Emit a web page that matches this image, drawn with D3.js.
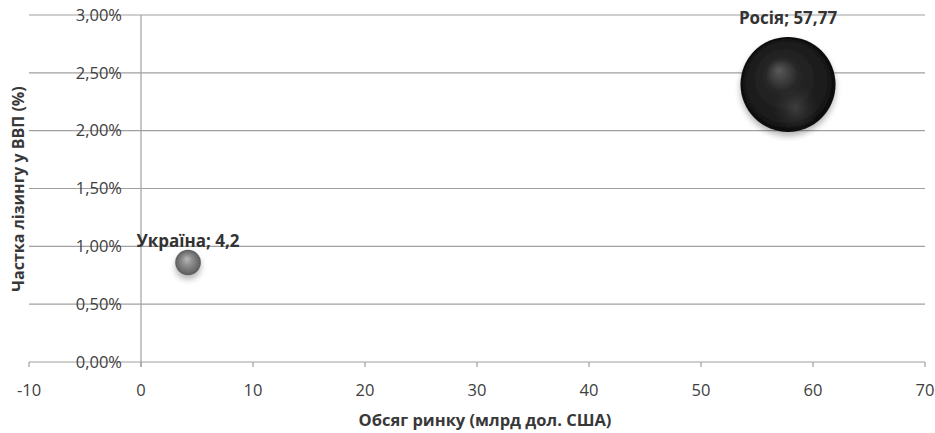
<!DOCTYPE html>
<html><head><meta charset="utf-8">
<script src="https://cdn.jsdelivr.net/npm/d3@7"></script>
<style>body{margin:0;background:#fff}svg{display:block}</style>
</head><body>
<script>
const countries = ["Україна", "Росія"];
const marketVolume = [4.2, 57.77];      // x: billion USD
const leasingShare = [0.0086, 0.0240];  // y: share of GDP
const labels = ["Україна; 4,2", "Росія; 57,77"];
const xTicks = [-10, 0, 10, 20, 30, 40, 50, 60, 70];
const yTicks = [0, 0.005, 0.01, 0.015, 0.02, 0.025, 0.03];

const W = 935, H = 433;
const svg = d3.select("body").append("svg").attr("width", W).attr("height", H);
const font = "'Open Sans', 'Liberation Sans', sans-serif";

const x = d3.scaleLinear().domain([-10, 70]).range([29, 925]);
const y = d3.scaleLinear().domain([0, 0.03]).range([362, 15]);
const r = d3.scaleSqrt().domain([0, 57.77]).range([0, 47.5]);

const defs = svg.append("defs");
const g1 = defs.append("radialGradient").attr("id","gBlack").attr("cx","50%").attr("cy","50%").attr("r","50%").attr("fx","40%").attr("fy","35%");
g1.append("stop").attr("offset","0%").attr("stop-color","#5a5a5a");
g1.append("stop").attr("offset","35%").attr("stop-color","#262626");
g1.append("stop").attr("offset","85%").attr("stop-color","#1a1a1a");
g1.append("stop").attr("offset","100%").attr("stop-color","#0a0a0a");
const g1b = defs.append("radialGradient").attr("id","gBlackLow").attr("cx","58%").attr("cy","75%").attr("r","25%");
g1b.append("stop").attr("offset","0%").attr("stop-color","#555").attr("stop-opacity",0.6);
g1b.append("stop").attr("offset","100%").attr("stop-color","#333").attr("stop-opacity",0);
const g2 = defs.append("radialGradient").attr("id","gGrey").attr("cx","50%").attr("cy","50%").attr("r","50%").attr("fx","45%").attr("fy","35%");
g2.append("stop").attr("offset","0%").attr("stop-color","#b8b8b8");
g2.append("stop").attr("offset","45%").attr("stop-color","#8a8a8a");
g2.append("stop").attr("offset","100%").attr("stop-color","#5c5c5c");
const sh = defs.append("filter").attr("id","shadow").attr("x","-30%").attr("y","-30%").attr("width","160%").attr("height","170%");
sh.append("feGaussianBlur").attr("in","SourceAlpha").attr("stdDeviation",3);
sh.append("feOffset").attr("dx",0).attr("dy",4).attr("result","b");
sh.append("feComponentTransfer").append("feFuncA").attr("type","linear").attr("slope",0.3);
const m = sh.append("feMerge"); m.append("feMergeNode"); m.append("feMergeNode").attr("in","SourceGraphic");

// gridlines
svg.append("g").selectAll("line").data(yTicks).join("line")
  .attr("x1", x(-10)).attr("x2", x(70)).attr("y1", d=>y(d)).attr("y2", d=>y(d))
  .attr("stroke", "#a0a0a0").attr("stroke-width", 1.2);

// x axis ticks
svg.append("g").selectAll("line").data(xTicks).join("line")
  .attr("x1", d=>x(d)).attr("x2", d=>x(d)).attr("y1", y(0)).attr("y2", y(0)+5)
  .attr("stroke", "#a0a0a0").attr("stroke-width", 1.2);
// vertical axis at x=0
svg.append("line").attr("x1", x(0)).attr("x2", x(0)).attr("y1", y(0.03)).attr("y2", y(0)+5)
  .attr("stroke", "#a0a0a0").attr("stroke-width", 1.2);

const fmtPct = d => (d*100).toFixed(2).replace(".", ",") + "%";
svg.append("g").selectAll("text").data(yTicks).join("text")
  .attr("x", 122).attr("y", d=>y(d)).attr("dy","0.35em").attr("text-anchor","end")
  .attr("font-family", font).attr("font-size", 16.5).attr("fill", "#404040").text(fmtPct);

svg.append("g").selectAll("text").data(xTicks).join("text")
  .attr("x", d=>x(d)).attr("y", 390).attr("dy","0.35em").attr("text-anchor","middle")
  .attr("font-family", font).attr("font-size", 16.5).attr("fill", "#404040").text(d=>d);

svg.append("text").attr("x", 485).attr("y", 420).attr("dy","0.35em").attr("text-anchor","middle")
  .attr("font-family", font).attr("font-size", 16.5).attr("font-weight","bold").attr("fill","#383838")
  .text("Обсяг ринку (млрд дол. США)");
svg.append("text").attr("transform","translate(18,189) rotate(-90)").attr("dy","0.35em").attr("text-anchor","middle")
  .attr("font-family", font).attr("font-size", 16).attr("font-weight","bold").attr("fill","#383838")
  .text("Частка лізингу у ВВП (%)");

// bubbles
const data = countries.map((c,i)=>({c, x: marketVolume[i], y: leasingShare[i], label: labels[i]}));
const bg = svg.append("g");
data.forEach((d,i)=>{
  const cx = x(d.x), cy = y(d.y), rr = r(d.x);
  bg.append("circle").attr("cx",cx).attr("cy",cy).attr("r",rr)
    .attr("fill", i===1 ? "url(#gBlack)" : "url(#gGrey)").attr("filter","url(#shadow)");
  if (i===1) bg.append("circle").attr("cx",cx).attr("cy",cy).attr("r",rr).attr("fill","url(#gBlackLow)");
  svg.append("text").attr("x", cx).attr("y", cy - rr - (i===1 ? 19 : 9)).attr("dy","0.35em")
    .attr("text-anchor","middle").attr("font-family", font).attr("font-size", 17)
    .attr("font-weight","bold").attr("fill","#333").text(d.label);
});
</script>
</body></html>
